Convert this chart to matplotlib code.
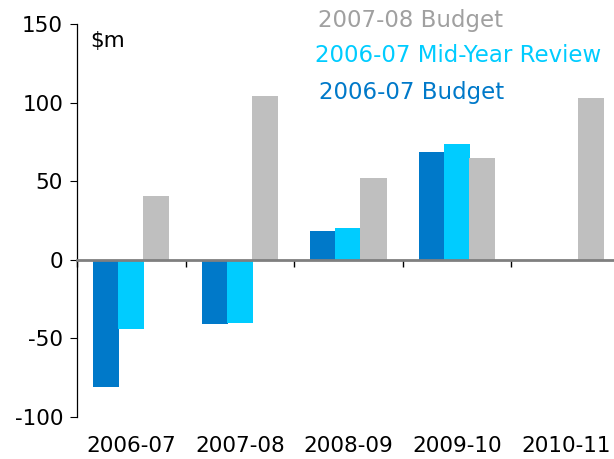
import numpy as np
import matplotlib
matplotlib.use('Agg')
import matplotlib.pyplot as plt

# 数据
years = ['2006-07', '2007-08', '2008-09', '2009-10', '2010-11']
budget_0607 = [-81, -41, 18.5, 68.5, np.nan]
myr_0607 = [-44, -40, 20, 73.5, np.nan]
budget_0708 = [40.5, 104, 52, 64.5, 103]

series_names = ['2007-08 Budget', '2006-07 Mid-Year Review', '2006-07 Budget']
c_dark = '#0079C9'
c_cyan = '#00CCFF'
c_gray = '#BFBFBF'
c_gray_txt = '#A0A0A0'

plt.rcParams['font.family'] = ['DejaVu Sans']
plt.rcParams['axes.unicode_minus'] = False
FS = 15.5
FS_LEG = 16.5

fig = plt.figure(figsize=(6.14, 4.59), dpi=100)
ax = fig.add_axes([77 / 614, 42 / 459, 543 / 614, 393 / 459])

x = np.arange(len(years))
w = 0.24
off = 0.23
ax.bar(x - off, budget_0607, width=w, color=c_dark, zorder=2)
ax.bar(x, myr_0607, width=w, color=c_cyan, zorder=2)
ax.bar(x + off, budget_0708, width=w, color=c_gray, zorder=2)

ax.set_xlim(-0.5, len(years) - 0.5)
ax.set_ylim(-100, 150)
ax.set_yticks([-100, -50, 0, 50, 100, 150])
ax.tick_params(axis='y', labelsize=FS, length=5, width=0.8, pad=5, colors='black')

# zero line carries the category boundary ticks
ax.spines['bottom'].set_position(('data', 0))
ax.spines['bottom'].set_color('#7F7F7F')
ax.spines['bottom'].set_linewidth(2)
ax.spines['bottom'].set_zorder(3)
ax.set_xticks(np.arange(len(years) + 1) - 0.5)
ax.tick_params(axis='x', direction='out', length=5, width=1, color='black', labelbottom=False)
ax.spines['top'].set_visible(False)
ax.spines['right'].set_visible(False)
ax.spines['left'].set_linewidth(0.9)

# category labels at the bottom
sec = ax.secondary_xaxis('bottom')
sec.set_xticks(x, years)
sec.tick_params(length=0, labelsize=FS, pad=14)
sec.spines['bottom'].set_visible(False)

fig.text(90 / 614, 1 - 41 / 459, '$m', fontsize=FS, va='center', ha='left')

# legend as coloured text
leg_colors = [c_gray_txt, c_cyan, c_dark]
leg_pos = [(318, 20), (315, 56), (319, 92)]
for name, col, (px, py) in zip(series_names, leg_colors, leg_pos):
    fig.text(px / 614, 1 - py / 459, name, color=col, fontsize=FS_LEG, va='center', ha='left')

fig.savefig('out.png', dpi=100)
